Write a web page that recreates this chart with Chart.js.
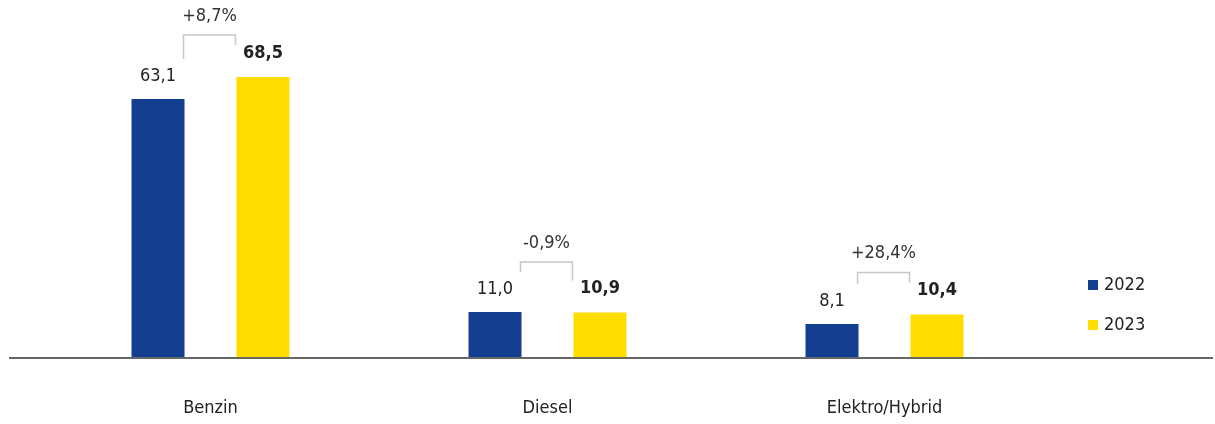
<!DOCTYPE html>
<html>
<head>
<meta charset="utf-8">
<script src="https://cdn.jsdelivr.net/npm/chart.js@4"></script>
<style>
  html, body { margin: 0; padding: 0; background: #fff; }
  #wrap { width: 1215px; height: 424px; position: relative; }
</style>
</head>
<body>
<div id="wrap"><canvas id="fuelChart"></canvas></div>
<script>
// chart data
const categories = ['Benzin', 'Diesel', 'Elektro/Hybrid'];
const seriesLabels = ['2022', '2023'];
const values2022 = [63.1, 11.0, 8.1];
const values2023 = [68.5, 10.9, 10.4];
const changeLabels = ['+8,7%', '-0,9%', '+28,4%'];

const FONT = '"DejaVu Sans Condensed", "DejaVu Sans", sans-serif';
const BLUE = '#143f91';
const YELLOW = '#ffdd00';

function fmt(v) {
  return v.toFixed(1).replace('.', ',');
}

// value labels, change brackets, full-width baseline and legend
const annotations = {
  id: 'annotations',
  afterDatasetsDraw(chart) {
    const ctx = chart.ctx;
    const area = chart.chartArea;
    const m0 = chart.getDatasetMeta(0);
    const m1 = chart.getDatasetMeta(1);

    ctx.save();
    // baseline
    ctx.strokeStyle = '#666';
    ctx.lineWidth = 2;
    ctx.beginPath();
    ctx.moveTo(9, area.bottom + 1);
    ctx.lineTo(1213, area.bottom + 1);
    ctx.stroke();

    ctx.textAlign = 'center';
    ctx.textBaseline = 'middle';
    categories.forEach((c, i) => {
      const b0 = m0.data[i];
      const b1 = m1.data[i];
      ctx.fillStyle = '#222';
      ctx.font = '18px ' + FONT;
      ctx.fillText(fmt(values2022[i]), b0.x, b0.y - 23);
      ctx.font = 'bold 18px ' + FONT;
      ctx.fillText(fmt(values2023[i]), b1.x, b1.y - 24);

      // bracket between bars
      const xl = b0.x + b0.width / 2 - 1;
      const xr = b1.x - b1.width / 2 - 1;
      const endL = b0.y - 40;
      const endR = b1.y - 32;
      const top = Math.min(endL, endR) - 10;
      ctx.strokeStyle = '#c8c8c8';
      ctx.lineWidth = 1.5;
      ctx.beginPath();
      ctx.moveTo(xl, endL);
      ctx.lineTo(xl, top);
      ctx.lineTo(xr, top);
      ctx.lineTo(xr, endR);
      ctx.stroke();

      ctx.fillStyle = '#333';
      ctx.font = '18px ' + FONT;
      ctx.fillText(changeLabels[i], (xl + xr) / 2, top - 19);
    });

    // legend
    const colors = [BLUE, YELLOW];
    ctx.textAlign = 'left';
    seriesLabels.forEach((s, k) => {
      const y = 285 + k * 40;
      ctx.fillStyle = colors[k];
      ctx.fillRect(1088, y - 5, 10, 10);
      ctx.fillStyle = '#222';
      ctx.font = '18px ' + FONT;
      ctx.fillText(s, 1104, y);
    });
    ctx.restore();
  }
};

new Chart(document.getElementById('fuelChart'), {
  type: 'bar',
  data: {
    labels: categories,
    datasets: [
      { label: seriesLabels[0], data: values2022, backgroundColor: BLUE },
      { label: seriesLabels[1], data: values2023, backgroundColor: YELLOW }
    ]
  },
  options: {
    responsive: true,
    maintainAspectRatio: false,
    animation: false,
    categoryPercentage: 0.623,
    barPercentage: 0.505,
    layout: { padding: { left: 42, right: 162, top: 30, bottom: 4 } },
    plugins: {
      legend: { display: false },
      tooltip: { enabled: false }
    },
    scales: {
      x: {
        grid: { display: false, drawTicks: false },
        border: { display: false },
        afterFit(scale) { scale.height = 63; },
        ticks: {
          padding: 41,
          color: '#222',
          font: { family: FONT, size: 18 }
        }
      },
      y: {
        display: false,
        min: 0,
        max: 80
      }
    }
  },
  plugins: [annotations]
});
</script>
</body>
</html>
